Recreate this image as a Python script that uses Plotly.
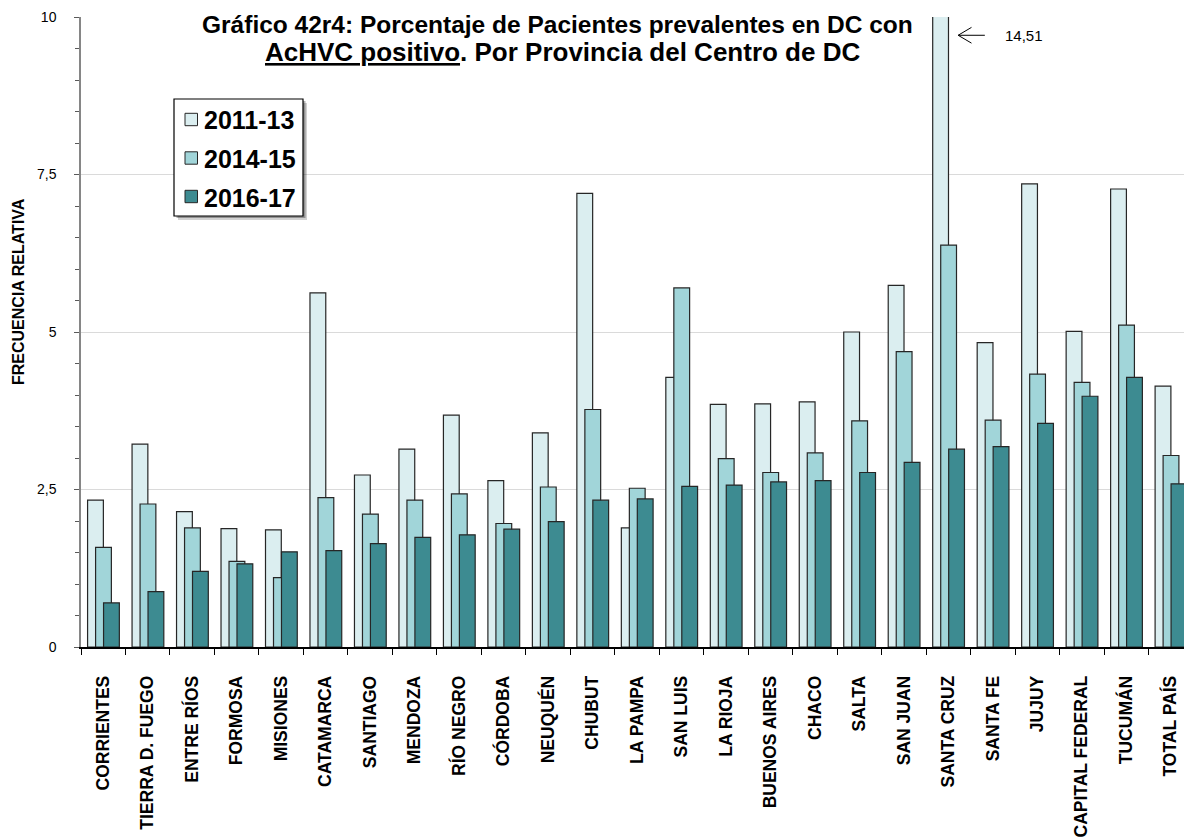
import plotly.graph_objects as go

provincias = [
    "CORRIENTES", "TIERRA D. FUEGO", "ENTRE RÍOS", "FORMOSA", "MISIONES",
    "CATAMARCA", "SANTIAGO", "MENDOZA", "RÍO NEGRO", "CÓRDOBA", "NEUQUÉN",
    "CHUBUT", "LA PAMPA", "SAN LUIS", "LA RIOJA", "BUENOS AIRES", "CHACO",
    "SALTA", "SAN JUAN", "SANTA CRUZ", "SANTA FE", "JUJUY",
    "CAPITAL FEDERAL", "TUCUMÁN", "TOTAL PAÍS",
]

p2011_13 = [2.33, 3.22, 2.15, 1.88, 1.86, 5.62, 2.73, 3.14, 3.68, 2.64, 3.40,
            7.20, 1.89, 4.28, 3.85, 3.86, 3.89, 5.00, 5.74, 14.51, 4.83, 7.35,
            5.01, 7.27, 4.14]
p2014_15 = [1.58, 2.27, 1.89, 1.36, 1.10, 2.37, 2.11, 2.33, 2.43, 1.96, 2.54,
            3.77, 2.52, 5.70, 2.99, 2.77, 3.08, 3.59, 4.69, 6.38, 3.60, 4.33,
            4.20, 5.11, 3.04]
p2016_17 = [0.70, 0.88, 1.20, 1.32, 1.51, 1.53, 1.64, 1.74, 1.78, 1.87, 1.99,
            2.33, 2.35, 2.55, 2.57, 2.62, 2.64, 2.77, 2.93, 3.14, 3.18, 3.55,
            3.98, 4.28, 2.59]

y_ticks = [0, 2.5, 5, 7.5, 10]
y_ticktext = ["0", "2,5", "5", "7,5", "10"]

FONT = "Arial, Liberation Sans, sans-serif"
OUTLINE = "#262626"

series = [
    ("2011-13", p2011_13, "#DBEEF0", -0.352),
    ("2014-15", p2014_15, "#A1D5D9", -0.172),
    ("2016-17", p2016_17, "#3D8B91", 0.007),
]

# plot area in page pixels (page body has an 8px margin)
PL, PR, PT, PB = 81, 1193, 17, 647


def px(X):
    return (X - PL) / (PR - PL)


def py(Y):
    return (PB - Y) / (PB - PT)


fig = go.Figure()
for name, vals, color, off in series:
    fig.add_trace(
        go.Bar(
            x=provincias,
            y=vals,
            name=name,
            width=0.355,
            offset=off,
            marker=dict(color=color, line=dict(color=OUTLINE, width=1.2)),
        )
    )

# legend drawn by hand (shadow, box, swatches, labels)
fig.add_shape(type="rect", xref="paper", yref="paper",
              x0=px(178), x1=px(307), y0=py(220), y1=py(103),
              fillcolor="rgba(0,0,0,0.18)", line=dict(width=0), layer="above")
fig.add_shape(type="rect", xref="paper", yref="paper",
              x0=px(176.5), x1=px(305.5), y0=py(218), y1=py(101),
              fillcolor="rgba(0,0,0,0.30)", line=dict(width=0), layer="above")
fig.add_shape(type="rect", xref="paper", yref="paper",
              x0=px(174), x1=px(303), y0=py(216), y1=py(99),
              fillcolor="white", line=dict(color="#000", width=1.2), layer="above")
for (name, vals, color, off), yc in zip(series, [119.5, 158, 196.5]):
    fig.add_shape(type="rect", xref="paper", yref="paper",
                  x0=px(185), x1=px(197.5), y0=py(yc + 6.2), y1=py(yc - 6.2),
                  fillcolor=color, line=dict(color=OUTLINE, width=1), layer="above")
    fig.add_annotation(xref="paper", yref="paper", x=px(202), y=py(yc + 1),
                       xanchor="left", yanchor="middle", showarrow=False,
                       text=f"<b>{name}</b>",
                       font=dict(family=FONT, size=25, color="#000"))

# clipped bar value (Santa Cruz 2011-13): arrow + label
idx = provincias.index("SANTA CRUZ")
tip_x, tail_x, ya = idx + 0.22, idx + 0.82, 9.71
fig.add_shape(type="line", xref="x", yref="y", x0=tip_x, x1=tail_x, y0=ya, y1=ya,
              line=dict(color="#000", width=1))
fig.add_shape(type="path", xref="x", yref="y",
              path=f"M {tip_x + 0.3},{ya + 0.125} L {tip_x},{ya} L {tip_x + 0.3},{ya - 0.125}",
              line=dict(color="#000", width=1))
fig.add_annotation(x=idx + 1.7, y=ya, showarrow=False, xanchor="center",
                   text=f"{p2011_13[idx]:.2f}".replace(".", ","),
                   font=dict(family=FONT, size=15, color="#000"))

# title (two lines placed separately)
fig.add_annotation(xref="paper", yref="paper", x=px(557), y=py(25),
                   xanchor="center", yanchor="middle", showarrow=False,
                   text="<b>Gráfico 42r4: Porcentaje de Pacientes prevalentes en DC con</b>",
                   font=dict(family=FONT, size=24.5, color="#000"))
fig.add_annotation(xref="paper", yref="paper", x=px(562), y=py(52),
                   xanchor="center", yanchor="middle", showarrow=False,
                   text="<b><u>AcHVC positivo</u>. Por Provincia del Centro de DC</b>",
                   font=dict(family=FONT, size=26, color="#000"))

# y axis title
fig.add_annotation(xref="paper", yref="paper", x=px(18), y=py(292),
                   xanchor="center", yanchor="middle", textangle=-90, showarrow=False,
                   text="<b>FRECUENCIA RELATIVA</b>",
                   font=dict(family=FONT, size=16, color="#000"))

fig.update_layout(
    width=1192,
    height=840,
    margin=dict(l=PL - 8, r=1192 + 8 - PR, t=PT - 8, b=840 - (PB - 8), autoexpand=False),
    barmode="overlay",
    paper_bgcolor="white",
    plot_bgcolor="white",
    font=dict(family=FONT, color="#000"),
    showlegend=False,
    xaxis=dict(
        type="category",
        range=[-0.5, len(provincias) - 0.5],
        automargin=False,
        showline=True, linecolor="#000", linewidth=1.5,
        ticks="outside", tickson="boundaries", ticklen=6, tickcolor="#000",
        tickangle=-90,
        tickfont=dict(family=FONT, size=17.5, color="#000", weight="bold"),
        ticklabelstandoff=20,
        showgrid=False,
    ),
    yaxis=dict(
        range=[0, 10],
        automargin=False,
        tickvals=y_ticks, ticktext=y_ticktext,
        showline=True, linecolor="#868686", linewidth=1.5,
        ticks="outside", ticklen=5, tickcolor="#595959",
        minor=dict(dtick=0.5, ticks="outside", ticklen=4, tickcolor="#595959", showgrid=False),
        showgrid=True, gridcolor="#DADADA", gridwidth=1,
        tickfont=dict(family=FONT, size=14, color="#000"),
        ticklabelstandoff=15,
        ticklabeloverflow="allow",
        zeroline=False,
    ),
)

fig.write_html("out.html")
